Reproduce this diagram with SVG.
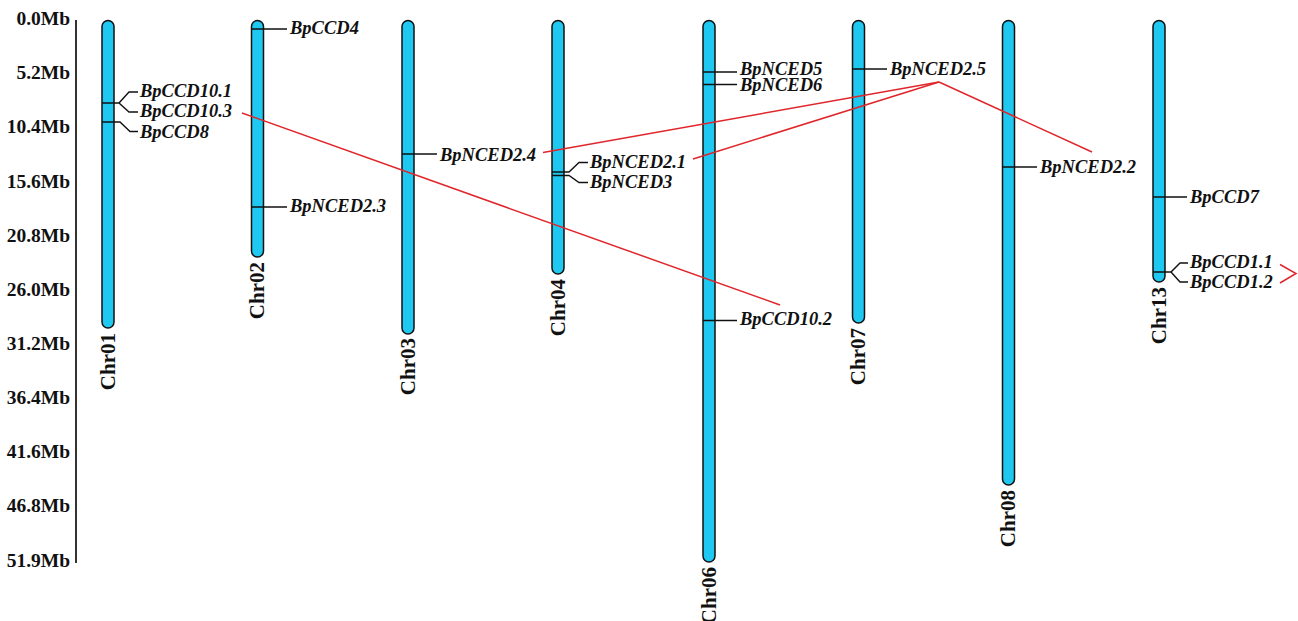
<svg xmlns="http://www.w3.org/2000/svg" width="1298" height="621" viewBox="0 0 1298 621">
<style>
.chr{fill:#1fc8f0;stroke:#111;stroke-width:1.5}
.mk{fill:none;stroke:#111;stroke-width:1.4}
.gl{font-family:"Liberation Serif","Times New Roman",serif;font-size:18.5px;font-weight:bold;font-style:italic;fill:#111}
.tk{font-family:"Liberation Serif","Times New Roman",serif;font-size:19.5px;font-weight:bold;fill:#111;text-anchor:end}
.cl{font-family:"Liberation Serif","Times New Roman",serif;font-size:21px;font-weight:bold;fill:#111;text-anchor:end}
.lnk{fill:none;stroke:#e0262b;stroke-width:1.5}
</style>
<rect width="1298" height="621" fill="#fff"/>
<g id="axis">
<line x1="76" y1="20" x2="76" y2="563" stroke="#333" stroke-width="2"/>
<text class="tk" x="70" y="25">0.0Mb</text>
<text class="tk" x="70" y="79.2">5.2Mb</text>
<text class="tk" x="70" y="133.3">10.4Mb</text>
<text class="tk" x="70" y="187.5">15.6Mb</text>
<text class="tk" x="70" y="241.6">20.8Mb</text>
<text class="tk" x="70" y="295.8">26.0Mb</text>
<text class="tk" x="70" y="349.9">31.2Mb</text>
<text class="tk" x="70" y="404.1">36.4Mb</text>
<text class="tk" x="70" y="458.2">41.6Mb</text>
<text class="tk" x="70" y="512.4">46.8Mb</text>
<text class="tk" x="70" y="566.5">51.9Mb</text>
</g>
<g id="chr01">
<rect class="chr" x="102" y="20.5" width="12" height="307.5" rx="6"/>
<text class="cl" transform="translate(114.5,333) rotate(-90)">Chr01</text>
<path class="mk" d="M102,103H119L129,92H138M119,103L129,112H138M102,122H120L130,131.5H138"/>
<text class="gl" x="140" y="97">BpCCD10.1</text>
<text class="gl" x="140" y="117">BpCCD10.3</text>
<text class="gl" x="140" y="137.5">BpCCD8</text>
</g>
<g id="chr02">
<rect class="chr" x="251.5" y="20.5" width="12" height="236.5" rx="6"/>
<text class="cl" transform="translate(264,262) rotate(-90)">Chr02</text>
<path class="mk" d="M251.5,29H287M251.5,207H287"/>
<text class="gl" x="290" y="33.5">BpCCD4</text>
<text class="gl" x="290" y="211.5">BpNCED2.3</text>
</g>
<g id="chr03">
<rect class="chr" x="402" y="20.5" width="12" height="313.5" rx="6"/>
<text class="cl" transform="translate(414.5,338) rotate(-90)">Chr03</text>
<path class="mk" d="M402,154H437"/>
<text class="gl" x="440" y="160.5">BpNCED2.4</text>
</g>
<g id="chr04">
<rect class="chr" x="552" y="20.5" width="12" height="253.5" rx="6"/>
<text class="cl" transform="translate(564.5,279) rotate(-90)">Chr04</text>
<path class="mk" d="M552,172H569L579,162.5H588M552,175.5H569L579,182.5H588"/>
<text class="gl" x="590" y="168">BpNCED2.1</text>
<text class="gl" x="590" y="188">BpNCED3</text>
</g>
<g id="chr06">
<rect class="chr" x="703" y="20.5" width="12" height="541.5" rx="6"/>
<text class="cl" transform="translate(715.5,567) rotate(-90)">Chr06</text>
<path class="mk" d="M703,72H737M703,84.5H737M703,320.5H737"/>
<text class="gl" x="740" y="74.5">BpNCED5</text>
<text class="gl" x="740" y="91">BpNCED6</text>
<text class="gl" x="740" y="325">BpCCD10.2</text>
</g>
<g id="chr07">
<rect class="chr" x="852.5" y="20.5" width="12" height="302.5" rx="6"/>
<text class="cl" transform="translate(865,328) rotate(-90)">Chr07</text>
<path class="mk" d="M852.5,69H887"/>
<text class="gl" x="890" y="75">BpNCED2.5</text>
</g>
<g id="chr08">
<rect class="chr" x="1002.5" y="20.5" width="12" height="464.5" rx="6"/>
<text class="cl" transform="translate(1015,490) rotate(-90)">Chr08</text>
<path class="mk" d="M1002.5,167H1037"/>
<text class="gl" x="1040" y="173">BpNCED2.2</text>
</g>
<g id="chr13">
<rect class="chr" x="1153" y="20.5" width="12" height="261.5" rx="6"/>
<text class="cl" transform="translate(1165.5,287) rotate(-90)">Chr13</text>
<path class="mk" d="M1153,197H1187M1153,272H1171L1180,263H1188M1171,272L1180,282H1188"/>
<text class="gl" x="1190" y="203">BpCCD7</text>
<text class="gl" x="1190" y="268">BpCCD1.1</text>
<text class="gl" x="1190" y="288">BpCCD1.2</text>
</g>
<g id="links">
<line class="lnk" x1="242" y1="113" x2="780" y2="305"/>
<line class="lnk" x1="543" y1="152.5" x2="939" y2="82"/>
<line class="lnk" x1="693" y1="159" x2="939" y2="82"/>
<line class="lnk" x1="939" y1="82" x2="1092" y2="152"/>
<polyline class="lnk" points="1280,264.5 1296,273.5 1280,283"/>
</g>
</svg>
